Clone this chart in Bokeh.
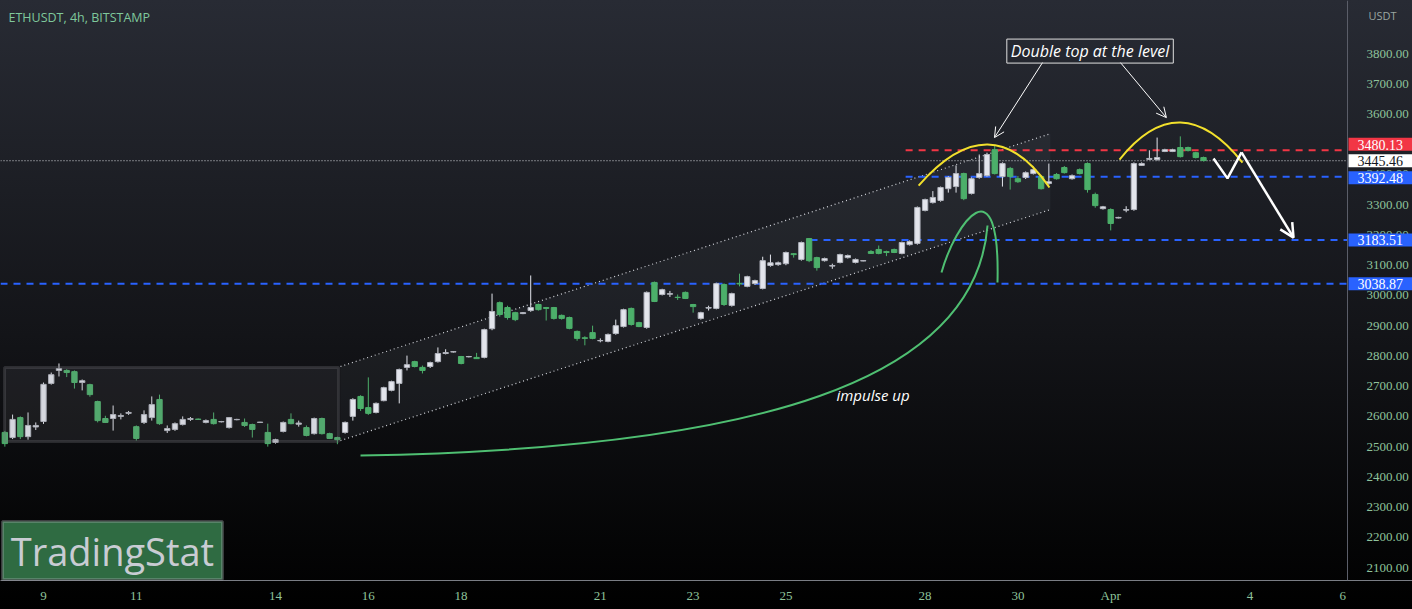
import numpy as np
from bokeh.plotting import figure
from bokeh.models import (ColumnDataSource, FixedTicker, Label, Arrow, OpenHead,
                          BoxAnnotation, Range1d, Span)
from bokeh.core.properties import value
from bokeh.embed import file_html
from bokeh.resources import INLINE

# ---------------- data (ETHUSDT 4h, Bitstamp) ----------------
opens = [2547, 2530, 2596, 2533, 2565, 2583, 2709, 2752, 2752, 2748,
         2712, 2705, 2649, 2593, 2593, 2600, 2610, 2566, 2580, 2596,
         2656, 2553, 2557, 2573, 2590, 2591, 2580, 2590, 2582, 2563,
         2589, 2580, 2573, 2580, 2547, 2514, 2550, 2590, 2574, 2563,
         2543, 2593, 2543, 2530, 2547, 2600, 2666, 2629, 2613, 2652,
         2686, 2709, 2762, 2781, 2762, 2765, 2781, 2808, 2813, 2798,
         2797, 2795, 2795, 2890, 2976, 2960, 2943, 2940, 2950, 2970,
         2960, 2960, 2934, 2927, 2881, 2860, 2877, 2850, 2848, 2874,
         2897, 2957, 2910, 2894, 3043, 3003, 3004, 2994, 3010, 2970,
         2924, 2958, 2957, 3036, 2967, 3040, 3030, 3039, 3023, 3099,
         3102, 3105, 3138, 3119, 3188, 3125, 3115, 3097, 3109, 3125,
         3109, 3114, 3145, 3152, 3145, 3152, 3139, 3168, 3172, 3281,
         3307, 3314, 3353, 3360, 3403, 3337, 3390, 3396, 3482, 3393,
         3420, 3386, 3390, 3403, 3393, 3370, 3400, 3423, 3386, 3416,
         3436, 3334, 3287, 3284, 3256, 3282, 3284, 3430, 3450, 3449,
         3476, 3476, 3489, 3489, 3472, 3456]
highs = [2552, 2606, 2600, 2613, 2580, 2712, 2745, 2775, 2756, 2752,
         2722, 2708, 2652, 2602, 2636, 2610, 2618, 2570, 2620, 2666,
         2672, 2570, 2580, 2600, 2598, 2593, 2590, 2613, 2585, 2598,
         2592, 2593, 2576, 2582, 2576, 2526, 2583, 2610, 2586, 2570,
         2596, 2596, 2546, 2533, 2583, 2660, 2670, 2729, 2646, 2698,
         2718, 2758, 2801, 2784, 2768, 2781, 2828, 2822, 2816, 2800,
         2800, 2810, 2890, 3006, 2980, 2966, 2946, 2945, 3066, 2973,
         2962, 2962, 2937, 2930, 2884, 2865, 2900, 2858, 2874, 2920,
         2956, 2960, 2913, 3013, 3046, 3022, 3015, 3003, 3013, 2972,
         2946, 2966, 3042, 3040, 3009, 3072, 3065, 3052, 3128, 3135,
         3112, 3145, 3140, 3178, 3190, 3128, 3125, 3105, 3138, 3135,
         3122, 3116, 3150, 3165, 3148, 3155, 3178, 3182, 3294, 3320,
         3345, 3360, 3394, 3430, 3406, 3390, 3466, 3472, 3496, 3440,
         3425, 3395, 3410, 3426, 3398, 3436, 3405, 3428, 3400, 3420,
         3440, 3340, 3296, 3288, 3260, 3295, 3440, 3440, 3480, 3522,
         3485, 3485, 3526, 3492, 3475, 3459]
lows = [2500, 2525, 2525, 2523, 2555, 2575, 2705, 2732, 2730, 2692,
        2686, 2665, 2580, 2578, 2553, 2590, 2605, 2520, 2575, 2586,
        2572, 2545, 2552, 2570, 2585, 2588, 2577, 2573, 2580, 2560,
        2587, 2565, 2530, 2578, 2500, 2510, 2547, 2574, 2566, 2534,
        2540, 2540, 2525, 2508, 2543, 2586, 2618, 2605, 2610, 2650,
        2683, 2643, 2752, 2762, 2742, 2760, 2778, 2805, 2811, 2772,
        2795, 2790, 2792, 2885, 2930, 2920, 2915, 2938, 2946, 2950,
        2917, 2920, 2920, 2888, 2850, 2835, 2855, 2845, 2845, 2870,
        2894, 2900, 2895, 2890, 2978, 3000, 2995, 2985, 2988, 2943,
        2920, 2950, 2954, 2965, 2963, 3030, 3027, 3035, 3020, 3095,
        3098, 3100, 3125, 3115, 3110, 3082, 3112, 3088, 3106, 3122,
        3106, 3113, 3137, 3136, 3130, 3140, 3136, 3165, 3168, 3278,
        3304, 3310, 3340, 3340, 3315, 3334, 3386, 3393, 3400, 3360,
        3350, 3372, 3385, 3400, 3350, 3366, 3383, 3403, 3383, 3400,
        3340, 3290, 3284, 3215, 3255, 3275, 3280, 3428, 3448, 3446,
        3474, 3474, 3456, 3476, 3453, 3443]
closes = [2510, 2590, 2533, 2570, 2570, 2706, 2738, 2758, 2745, 2712,
          2718, 2672, 2586, 2580, 2606, 2603, 2613, 2527, 2606, 2639,
          2576, 2560, 2576, 2590, 2593, 2590, 2586, 2576, 2583, 2596,
          2590, 2570, 2557, 2581, 2510, 2523, 2580, 2576, 2578, 2537,
          2593, 2543, 2527, 2523, 2580, 2656, 2626, 2610, 2643, 2695,
          2715, 2755, 2771, 2765, 2752, 2778, 2808, 2811, 2814, 2775,
          2798, 2791, 2887, 2947, 2937, 2927, 2920, 2943, 2960, 2953,
          2957, 2924, 2924, 2891, 2858, 2858, 2858, 2851, 2871, 2900,
          2953, 2904, 2897, 3010, 2980, 3019, 3006, 2993, 2990, 2963,
          2943, 2960, 3039, 2970, 3006, 3038, 3062, 3049, 3115, 3108,
          3108, 3142, 3135, 3175, 3115, 3092, 3122, 3099, 3135, 3132,
          3119, 3115, 3139, 3139, 3142, 3142, 3175, 3178, 3291, 3317,
          3324, 3357, 3390, 3403, 3320, 3386, 3403, 3466, 3403, 3436,
          3393, 3376, 3406, 3416, 3353, 3376, 3386, 3406, 3396, 3403,
          3350, 3297, 3293, 3238, 3258, 3284, 3436, 3436, 3453, 3456,
          3482, 3482, 3459, 3479, 3456, 3446]

# x axis ticks (day of month, March -> April)
tick_days = [9, 11, 14, 16, 18, 21, 23, 25, 28, 30, 32, 35, 37]
tick_labels = ["9", "11", "14", "16", "18", "21", "23", "25", "28", "30", "Apr", "4", "6"]
price_ticks = [2100, 2200, 2300, 2400, 2500, 2600, 2700, 2800, 2900, 3000,
               3100, 3200, 3300, 3400, 3500, 3600, 3700, 3800]

# horizontal levels
level_red = 3480.13
levels_blue = [3392.48, 3183.51, 3038.87]
last_price = 3445.46

# annotation geometry (chart coordinates: day-of-March, price)
consol_box = dict(left=8.16, right=15.36, bottom=2517, top=2762)
channel_x = [15.40, 30.70]
channel_low = [2520, 3284]
channel_up = [2765, 3535]

n = len(opens)
bar_time = [8 + (k + 1) / 6 for k in range(n)]   # 4h bars from Mar 8 04:00

UP = "#e3e5ec"
DOWN = "#4caf6a"
inc = [c >= o for o, c in zip(opens, closes)]
src = ColumnDataSource(dict(
    x=bar_time, o=opens, h=highs, l=lows, c=closes,
    top=[max(o, c) for o, c in zip(opens, closes)],
    bot=[min(o, c) for o, c in zip(opens, closes)],
    col=[UP if i else DOWN for i in inc],
    edge=["#b2b5be" if i else DOWN for i in inc],
))

X0 = 8.073          # left edge of chart
XS = 37.103         # price-scale separator
X1 = 38.504         # right edge of page
Y0, Y1 = 2057.3, 3975.3

p = figure(width=1412, height=609, output_backend="svg", toolbar_location=None,
           x_range=Range1d(X0, X1), y_range=Range1d(Y0, Y1),
           y_axis_location=None, min_border_left=0, min_border_top=0,
           min_border_right=0, min_border_bottom=29)
p.styles = {"background": "linear-gradient(180deg, #282b34 0%, #131418 55%, #000000 100%)"}
p.background_fill_alpha = 0
p.border_fill_alpha = 0
p.outline_line_color = None
p.grid.grid_line_color = None

AX_COL = "#8fc39c"
AX_FONT = "Liberation Sans Narrow"
p.xaxis.ticker = FixedTicker(ticks=tick_days)
p.xaxis.major_label_overrides = dict(zip(tick_days, tick_labels))
p.xaxis.major_tick_line_color = None
p.xaxis.minor_tick_line_color = None
p.xaxis.axis_line_color = "#7a7d85"
p.xaxis.major_label_text_color = AX_COL
p.xaxis.major_label_text_font = AX_FONT
p.xaxis.major_label_text_font_size = "13px"
p.xaxis.major_label_standoff = 1

# consolidation box
p.add_layout(BoxAnnotation(fill_color="#787b86", fill_alpha=0.13, line_color="#707177",
                           line_width=3, **consol_box))
# rising channel
p.patch(x=[channel_x[0], channel_x[1], channel_x[1], channel_x[0]],
        y=[channel_low[0], channel_low[1], channel_up[1], channel_up[0]],
        fill_color="#787b86", fill_alpha=0.1, line_color=None)
p.line(channel_x, channel_low, line_color="#d6d8de", line_dash="1 3", line_width=1.2)
p.line(channel_x, channel_up, line_color="#d6d8de", line_dash="1 3", line_width=1.2)

# horizontal levels
lvl_start = [27.58, 27.58, 25.53, X0]
p.line([27.58, XS], [level_red] * 2, line_color="#f23645", line_width=2, line_dash="7 6")
for s, lv in zip(lvl_start[1:], levels_blue):
    p.line([s, XS], [lv] * 2, line_color="#2962ff", line_width=2, line_dash="7 6")
p.line([X0, XS], [last_price] * 2, line_color="#d6d8de", line_width=1, line_dash="1 2")

# candles
p.segment(x0="x", y0="l", x1="x", y1="h", color="col", line_width=1, source=src)
p.vbar(x="x", width=0.115, top="top", bottom="bot", fill_color="col",
       line_color="edge", line_width=1, source=src)

# yellow double-top arcs
YEL = "#f2e02c"
p.quadratic(x0=[27.86, 32.19], y0=[3363, 3449], x1=[30.68, 34.84], y1=[3357, 3439],
            cx=[29.42, 33.49], cy=[3638, 3699], line_color=YEL, line_width=2)

# green impulse curves
GRN = "#4fbf72"
p.bezier(x0=[15.832, 28.353], y0=[2470.6, 3075.8], x1=[29.345, 29.560], y1=[3231.2, 3042.7],
         cx0=[24.453, 28.655], cy0=[2493.7, 3241.1], cx1=[29.086, 29.625], cy1=[2718.6, 3446.2],
         line_color=GRN, line_width=2)

# white projection path
p.line([34.216, 34.517, 34.819], [3453, 3387, 3473], line_color="white", line_width=2.5)
p.add_layout(Arrow(end=OpenHead(size=14, line_color="white", line_width=2.5),
                   x_start=34.819, y_start=3473, x_end=35.94, y_end=3191,
                   line_color="white", line_width=2.5))

# callout arrows
for xs, ys, xe, ye in [(30.53, 3770, 29.495, 3522), (32.21, 3770, 33.20, 3588)]:
    p.add_layout(Arrow(end=OpenHead(size=10, line_color="white", line_width=1),
                       x_start=xs, y_start=ys, x_end=xe, y_end=ye,
                       line_color="white", line_width=1))

p.add_layout(Label(x=31.555, y=3808, text="Double top at the level", text_align="center",
                   text_baseline="middle", text_color="white", text_font="Open Sans",
                   text_font_style="italic", text_font_size="16px",
                   border_line_color="#e0e0e0", border_line_width=1,
                   padding=dict(left=4, right=4, top=1, bottom=1)))
p.add_layout(Label(x=26.09, y=2672, text="impulse up", text_align="left",
                   text_baseline="middle", text_color="white", text_font="Open Sans",
                   text_font_style="italic", text_font_size="15px"))

# header
p.add_layout(Label(x=8, x_units="screen", y=3919, text="ETHUSDT, 4h, BITSTAMP",
                   text_baseline="middle", text_color="#7fc89c", text_font="Open Sans",
                   text_font_size="12.5px"))

# logo
p.add_layout(BoxAnnotation(left=8.116, right=12.857, bottom=2061, top=2252,
                           fill_color="#2f6b42", fill_alpha=1, line_color="#b8bcc4", line_width=3))
p.add_layout(Label(x=10.486, y=2156, text="TradingStat", text_align="center",
                   text_baseline="middle", text_color="#c9ccd3", text_font="Open Sans",
                   text_font_size="38px"))

# ---------------- price scale (right) ----------------
p.add_layout(Span(location=XS, dimension="height", line_color="#5d606b", line_width=1))
p.text(x=[XS] * len(price_ticks), y=price_ticks,
       text=[f"{t:.2f}" for t in price_ticks], x_offset=19,
       text_align="left", text_baseline="middle", text_color=AX_COL,
       text_font=value(AX_FONT), text_font_size="13px")
p.text(x=[XS], y=[3926], text=["USDT"], x_offset=21, text_align="left",
       text_baseline="middle", text_color="#9aa7a0", text_font=value("Open Sans"),
       text_font_size="11px")

badge_vals = [level_red, last_price] + levels_blue
badge_bg = ["#f23645", "#ffffff", "#2962ff", "#2962ff", "#2962ff"]
badge_fg = ["#ffffff", "#131722", "#ffffff", "#ffffff", "#ffffff"]
badge_shift = [-6, 0, 1, 0, 0]   # price-scale label de-overlap (pixels)
p.text(x=[XS] * len(badge_vals), y=badge_vals, text=[f"{v:.2f}" for v in badge_vals],
       x_offset=1, y_offset=badge_shift, text_align="left", text_baseline="middle",
       text_color=badge_fg, background_fill_color=badge_bg, text_font=value(AX_FONT),
       text_font_size="14px", padding=dict(left=9, right=10, top=2, bottom=1))

open("out.html", "w").write(file_html(p, INLINE))
